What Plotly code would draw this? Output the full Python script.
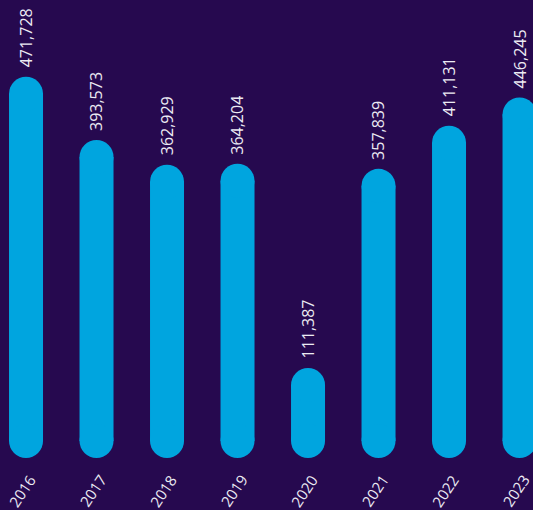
import plotly.graph_objects as go

years = ["2016", "2017", "2018", "2019", "2020", "2021", "2022", "2023"]
values = [471728, 393573, 362929, 364204, 111387, 357839, 411131, 446245]
value_labels = ["471,728", "393,573", "362,929", "364,204", "111,387", "357,839", "411,131", "446,245"]

BG = "#26094f"
BAR = "#00a5df"
TXT = "#ecebf3"

W, H = 533, 510
MB = 52
YMAX = 566800
BAR_PX = 34
unit_per_px = YMAX / (H - MB)
r = BAR_PX / 2 * unit_per_px  # cap radius in data units

idx = list(range(len(years)))
xs, ys = [], []
for i, v in zip(idx, values):
    xs += [i, i, None]
    ys += [r, v - r, None]

fig = go.Figure()
fig.add_trace(go.Scatter(x=xs, y=ys, mode="lines+markers", connectgaps=False,
                         line=dict(color=BAR, width=BAR_PX),
                         marker=dict(color=BAR, size=BAR_PX, symbol="circle", line=dict(width=0)),
                         cliponaxis=False, hoverinfo="skip"))

for i, (v, lab) in enumerate(zip(values, value_labels)):
    fig.add_annotation(x=i, y=v, xref="x", yref="y", text=lab, textangle=-90,
                       showarrow=False, xanchor="center", yanchor="bottom", yshift=7,
                       font=dict(family="Open Sans", size=16, color=TXT))
    fig.add_annotation(x=i, y=0, xref="x", yref="y", text=years[i], textangle=-56,
                       showarrow=False, xanchor="center", yanchor="middle", yshift=-33, xshift=-4,
                       font=dict(family="Open Sans", size=15, color=TXT))

fig.update_layout(
    width=W, height=H,
    margin=dict(l=0, r=0, t=0, b=MB),
    paper_bgcolor=BG, plot_bgcolor=BG,
    showlegend=False,
    xaxis=dict(range=[-0.369, 7.191], visible=False, fixedrange=True),
    yaxis=dict(range=[0, YMAX], visible=False, fixedrange=True),
)

fig.write_html("out.html")
